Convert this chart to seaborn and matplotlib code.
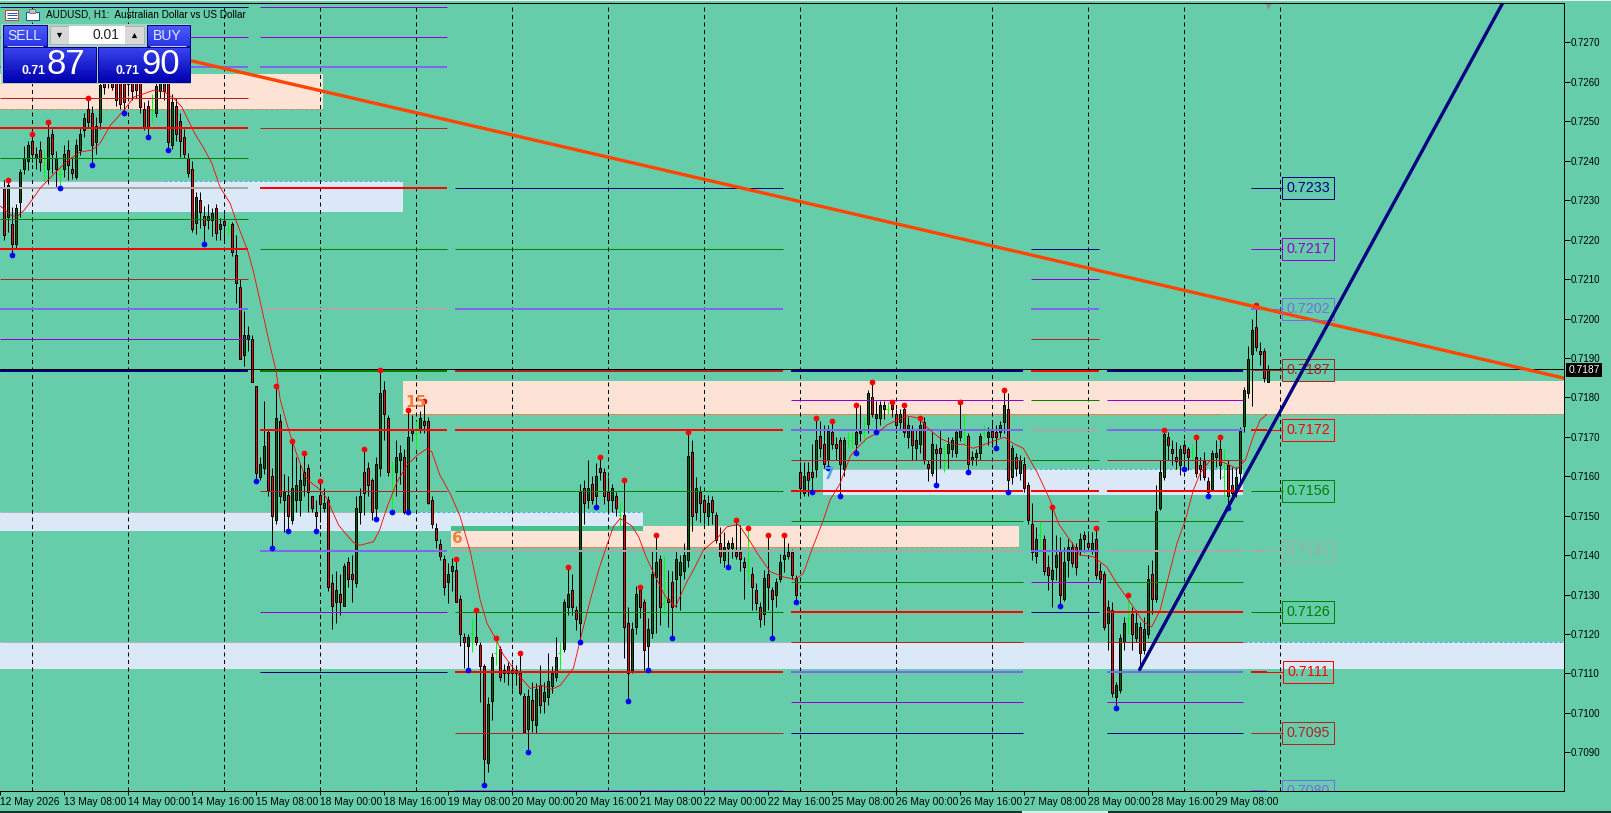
import numpy as np
import matplotlib
matplotlib.use('Agg')
import matplotlib.pyplot as plt
from matplotlib.colors import LinearSegmentedColormap
from matplotlib.patches import Rectangle
import seaborn as sns

# H1 bars, prices in 1e-4 units (7187.0 = 0.71870), ten bars per row
opens = [
    7232.9,7225.8,7223.9,7218.8,7229.5,7237.9,7240.0,7244.9,7240.8,7242.8,
    7238.9,7237.8,7246.9,7237.9,7236.7,7237.9,7242.8,7238.0,7235.9,7242.8,
    7247.9,7253.0,7252.0,7244.8,7249.9,7259.6,7259.6,7265.0,7263.0,7261.0,
    7260.0,7259.5,7262.0,7260.0,7261.0,7253.0,7254.0,7252.8,7252.0,7257.7,
    7261.0,7260.0,7243.9,7254.0,7250.0,7245.9,7240.8,7238.0,7224.1,7230.0,
    7225.9,7224.9,7224.9,7227.9,7222.7,7224.8,7222.8,7223.9,7216.1,7207.9,
    7190.8,7194.8,7194.9,7183.0,7159.8,7162.0,7171.1,7160.0,7148.9,7174.0,
    7154.0,7155.2,7148.9,7154.0,7154.0,7157.9,7162.0,7155.0,7151.0,7155.2,
    7152.0,7154.1,7133.0,7128.0,7130.2,7127.0,7138.3,7135.2,7133.0,7151.0,
    7161.0,7162.0,7159.0,7152.0,7162.0,7182.0,7174.9,7162.0,7161.0,7164.0,
    7165.0,7151.8,7171.0,7170.8,7171.8,7173.9,7173.9,7154.1,7147.0,7142.9,
    7138.9,7133.1,7136.0,7136.2,7129.0,7119.2,7117.0,7120.2,7119.2,7117.1,
    7112.0,7087.2,7103.1,7115.1,7116.1,7110.0,7112.0,7111.0,7111.0,7110.0,
    7104.3,7096.0,7103.3,7097.0,7107.0,7103.1,7104.1,7106.8,7109.0,7115.1,
    7116.1,7126.9,7131.1,7126.1,7122.9,7157.1,7154.0,7158.0,7155.1,7162.1,
    7161.0,7156.1,7154.0,7155.1,7150.2,7150.2,7122.9,7111.0,7121.8,7131.1,
    7128.0,7117.0,7120.2,7134.4,7138.9,7127.9,7129.0,7133.2,7134.0,7135.0,
    7136.0,7138.8,7166.1,7151.0,7156.0,7154.1,7149.9,7154.1,7150.2,7143.0,
    7138.8,7141.8,7141.8,7140.9,7140.9,7138.2,7136.2,7135.2,7131.1,7126.9,
    7125.0,7135.2,7131.1,7130.0,7134.0,7138.9,7140.9,7140.9,7134.1,7161.0,
    7155.8,7161.0,7161.0,7161.9,7170.2,7168.1,7164.1,7171.1,7168.1,7169.1,
    7161.9,7170.0,7169.2,7168.1,7171.0,7171.3,7173.2,7180.0,7174.8,7174.8,
    7177.0,7177.0,7178.0,7175.9,7173.8,7177.0,7170.0,7171.7,7167.1,7168.1,
    7173.8,7163.0,7160.9,7167.0,7167.1,7167.1,7166.0,7167.0,7166.0,7170.0,
    7171.3,7170.1,7164.0,7165.0,7166.0,7170.9,7170.0,7171.5,7171.1,7171.1,
    7173.8,7177.0,7159.9,7165.0,7160.9,7163.0,7157.9,7148.0,7139.8,7145.1,
    7144.1,7137.1,7134.0,7137.1,7141.0,7129.0,7138.7,7142.0,7142.0,7141.0,
    7145.1,7143.0,7141.0,7144.0,7136.1,7135.1,7122.9,7126.1,7104.1,7105.8,
    7118.1,7124.0,7125.0,7119.1,7121.9,7115.9,7120.1,7135.1,7128.9,7152.0,
    7159.8,7170.0,7167.0,7164.9,7162.9,7168.0,7166.9,7166.2,7164.9,7162.9,
    7163.9,7158.8,7156.8,7164.9,7167.0,7159.8,7162.9,7157.9,7155.9,7160.8,
    7172.8,7181.0,7190.9,7197.9,7191.8,7191.8,7183.9,
]
closes = [
    7221.1,7233.8,7218.8,7227.9,7237.1,7240.8,7243.9,7241.8,7241.8,7239.8,
    7238.9,7245.9,7241.8,7240.8,7236.7,7241.8,7238.9,7236.9,7243.9,7246.9,
    7250.9,7249.9,7243.9,7248.9,7259.1,7258.7,7264.0,7258.7,7255.5,7254.5,
    7254.9,7262.0,7257.7,7258.0,7253.7,7248.2,7248.2,7252.8,7258.9,7261.0,
    7257.7,7244.7,7255.0,7246.9,7244.9,7241.8,7236.9,7222.8,7230.8,7226.9,
    7223.7,7225.9,7226.8,7221.7,7223.9,7223.7,7222.8,7216.9,7208.9,7189.8,
    7195.9,7195.9,7183.9,7160.9,7163.0,7167.8,7156.6,7150.0,7174.9,7155.0,
    7156.0,7150.0,7156.9,7157.9,7159.0,7161.0,7155.9,7152.0,7150.0,7153.0,
    7153.1,7131.9,7127.0,7131.2,7128.0,7137.3,7134.0,7134.0,7152.0,7155.0,
    7155.8,7157.9,7151.0,7163.0,7181.0,7175.8,7161.0,7162.0,7165.0,7166.0,
    7151.0,7170.0,7171.8,7170.8,7174.9,7172.9,7153.1,7148.0,7143.9,7139.9,
    7131.9,7135.1,7137.2,7128.0,7120.0,7118.0,7119.2,7120.2,7118.0,7112.0,
    7088.2,7102.2,7114.1,7115.1,7109.0,7111.0,7110.0,7110.0,7110.0,7105.1,
    7095.1,7104.3,7098.1,7106.0,7102.0,7105.3,7108.0,7110.0,7114.1,7115.1,
    7128.0,7130.1,7126.9,7123.9,7156.1,7153.1,7157.1,7154.0,7160.0,7161.0,
    7155.1,7154.0,7157.1,7152.0,7150.2,7121.8,7110.0,7121.3,7130.1,7126.9,
    7115.9,7121.3,7135.2,7138.2,7126.9,7127.9,7128.0,7126.9,7138.9,7138.2,
    7140.0,7165.1,7149.9,7157.1,7153.1,7151.0,7153.1,7151.0,7143.8,7139.9,
    7142.0,7143.0,7143.0,7139.9,7138.9,7137.0,7136.2,7132.0,7127.9,7123.9,
    7134.1,7132.0,7129.0,7133.2,7138.2,7140.0,7139.9,7135.0,7129.9,7156.9,
    7160.0,7159.0,7159.9,7169.2,7167.1,7163.0,7171.5,7168.1,7167.1,7163.0,
    7169.1,7170.0,7169.2,7171.3,7171.4,7171.3,7181.0,7175.9,7175.9,7178.0,
    7178.0,7177.0,7177.0,7172.9,7175.9,7171.1,7172.9,7168.0,7169.2,7172.9,
    7164.1,7162.0,7168.1,7166.0,7166.0,7167.1,7168.1,7169.1,7171.1,7171.7,
    7171.3,7163.0,7165.0,7166.0,7170.1,7170.9,7171.1,7170.0,7170.0,7172.9,
    7178.0,7159.0,7167.1,7162.0,7164.0,7156.9,7148.9,7140.9,7144.1,7145.1,
    7136.0,7134.9,7136.2,7140.0,7129.9,7138.3,7142.0,7138.1,7137.1,7144.1,
    7144.1,7142.0,7143.0,7134.9,7134.0,7121.8,7126.9,7105.1,7107.0,7119.1,
    7122.9,7124.0,7120.1,7122.9,7115.1,7121.2,7134.0,7128.9,7151.1,7161.0,
    7170.7,7167.9,7165.9,7163.9,7167.0,7165.9,7164.9,7166.2,7160.8,7161.9,
    7159.8,7155.9,7166.0,7166.0,7162.9,7159.8,7154.9,7155.8,7159.8,7171.4,
    7182.0,7189.8,7197.0,7192.8,7190.9,7185.0,7186.9,
]
highs = [
    7235.0,7235.0,7228.3,7229.0,7238.0,7243.8,7245.0,7246.9,7243.5,7245.0,
    7242.8,7249.8,7248.0,7242.5,7238.9,7244.0,7245.2,7241.0,7245.5,7248.2,
    7252.0,7255.8,7254.0,7251.0,7261.0,7264.0,7266.0,7266.0,7265.0,7262.0,
    7262.0,7264.0,7264.0,7262.0,7263.0,7255.0,7255.5,7256.8,7260.5,7263.0,
    7264.0,7262.0,7257.0,7256.0,7252.0,7248.0,7242.0,7240.0,7232.0,7232.0,
    7228.5,7229.0,7227.9,7229.0,7225.5,7226.6,7224.8,7224.5,7221.1,7210.0,
    7201.9,7198.0,7195.9,7183.0,7165.0,7179.0,7172.0,7162.0,7183.0,7175.9,
    7160.7,7160.0,7169.0,7165.0,7163.0,7165.9,7163.0,7155.0,7153.9,7158.9,
    7156.9,7155.0,7135.2,7136.0,7135.2,7138.0,7139.5,7140.0,7155.0,7157.0,
    7167.0,7163.5,7159.5,7165.0,7187.0,7184.1,7175.5,7163.9,7169.1,7168.0,
    7167.0,7176.9,7175.5,7174.0,7176.5,7179.0,7175.0,7155.0,7148.2,7144.0,
    7140.0,7138.0,7139.2,7138.9,7130.0,7120.2,7120.0,7124.0,7126.0,7118.0,
    7112.5,7104.1,7115.1,7119.1,7117.0,7112.5,7113.0,7112.5,7112.1,7115.1,
    7105.0,7106.0,7107.9,7107.5,7112.1,7107.9,7115.1,7112.0,7119.3,7118.0,
    7129.0,7137.1,7135.2,7127.0,7158.0,7159.0,7164.1,7160.0,7163.3,7165.0,
    7162.0,7159.9,7158.0,7156.0,7153.1,7159.0,7126.9,7123.0,7132.1,7132.0,
    7129.0,7124.0,7141.3,7145.0,7140.0,7139.8,7136.2,7136.0,7141.0,7140.0,
    7143.0,7171.1,7169.2,7159.9,7157.5,7155.2,7155.2,7155.0,7151.0,7147.2,
    7145.9,7143.8,7144.7,7149.0,7147.6,7139.6,7147.0,7137.0,7133.0,7128.0,
    7136.2,7145.0,7132.0,7134.1,7140.4,7145.0,7143.0,7141.5,7135.0,7163.7,
    7163.7,7163.7,7168.1,7174.9,7174.0,7173.0,7173.0,7173.9,7170.0,7170.0,
    7170.0,7171.3,7171.3,7178.0,7178.0,7175.1,7182.0,7184.0,7179.0,7179.0,
    7179.0,7178.9,7178.9,7177.0,7177.0,7178.0,7175.0,7173.0,7172.0,7174.9,
    7175.0,7164.1,7171.3,7168.3,7172.0,7168.1,7170.0,7170.0,7172.0,7178.9,
    7175.9,7171.0,7166.5,7167.0,7171.0,7173.0,7172.6,7174.2,7173.0,7174.0,
    7182.0,7181.0,7168.0,7166.0,7165.5,7165.0,7158.5,7153.1,7147.2,7148.9,
    7145.0,7140.0,7152.1,7145.1,7144.7,7142.1,7144.2,7143.4,7143.0,7145.5,
    7146.0,7146.0,7145.9,7146.9,7137.9,7136.0,7128.6,7128.0,7107.9,7120.1,
    7124.4,7130.0,7126.9,7126.1,7123.0,7124.4,7137.4,7138.7,7157.9,7164.0,
    7171.7,7171.2,7169.1,7168.7,7167.9,7169.1,7167.4,7168.1,7170.0,7164.9,
    7166.2,7159.8,7166.6,7169.1,7170.0,7167.0,7164.0,7162.4,7162.4,7172.5,
    7182.7,7193.0,7200.0,7203.4,7194.1,7192.4,7188.1,
]
lows = [
    7219.8,7222.0,7216.0,7217.5,7225.8,7236.7,7237.6,7239.7,7238.0,7237.5,
    7234.9,7234.0,7237.0,7233.0,7233.0,7236.0,7235.0,7235.5,7235.5,7241.5,
    7246.0,7248.5,7238.8,7241.8,7248.0,7257.0,7258.5,7258.0,7254.0,7253.0,
    7252.0,7256.5,7255.5,7256.0,7252.0,7247.7,7245.9,7249.8,7251.0,7256.0,
    7255.5,7242.7,7243.0,7245.0,7241.0,7240.8,7236.0,7222.0,7221.5,7223.0,
    7219.0,7222.6,7220.9,7219.9,7219.9,7219.9,7220.9,7215.8,7204.0,7189.8,
    7187.9,7191.8,7183.9,7158.9,7159.0,7160.5,7155.0,7141.9,7148.0,7153.1,
    7145.9,7146.0,7148.0,7151.0,7150.0,7155.0,7151.0,7151.0,7146.0,7148.4,
    7151.0,7131.0,7121.2,7122.9,7124.9,7127.0,7132.0,7128.0,7132.0,7148.0,
    7150.1,7155.0,7148.9,7149.1,7160.0,7169.1,7160.0,7151.0,7155.0,7158.0,
    7150.5,7151.0,7169.0,7167.0,7171.0,7171.0,7153.0,7147.0,7141.7,7138.7,
    7129.9,7127.9,7131.0,7128.0,7117.0,7111.3,7111.0,7115.5,7117.2,7102.8,
    7081.7,7085.1,7098.2,7112.1,7108.0,7107.9,7107.0,7106.0,7107.0,7104.5,
    7095.0,7090.0,7095.2,7095.0,7100.0,7099.9,7102.0,7105.0,7108.0,7110.9,
    7115.5,7124.8,7124.8,7121.0,7118.1,7148.0,7152.0,7153.0,7152.1,7159.0,
    7153.0,7150.5,7151.0,7149.9,7147.2,7113.8,7103.1,7110.0,7120.0,7124.0,
    7111.0,7111.0,7119.0,7120.2,7122.3,7124.8,7121.8,7119.1,7126.9,7126.1,
    7134.0,7137.0,7146.0,7149.0,7148.5,7148.0,7147.7,7148.0,7143.0,7137.9,
    7137.0,7137.1,7139.2,7139.0,7136.0,7129.0,7133.3,7126.1,7126.1,7121.8,
    7122.3,7126.1,7119.1,7126.9,7133.3,7135.8,7139.0,7134.0,7128.0,7154.4,
    7155.0,7155.0,7155.9,7159.9,7165.0,7162.0,7162.0,7167.0,7164.0,7155.1,
    7160.0,7167.1,7167.1,7166.0,7169.0,7168.8,7171.0,7175.0,7171.1,7173.0,
    7174.5,7175.9,7175.0,7171.0,7172.0,7170.0,7167.1,7164.1,7164.1,7166.0,
    7163.0,7158.9,7160.0,7157.9,7162.0,7161.1,7162.0,7165.0,7165.0,7169.0,
    7168.3,7161.0,7162.8,7162.8,7164.0,7170.0,7168.0,7167.5,7167.1,7170.0,
    7171.0,7155.9,7158.0,7160.0,7159.0,7156.0,7147.9,7138.7,7137.9,7141.3,
    7134.9,7131.1,7126.9,7133.7,7127.0,7128.5,7134.5,7137.1,7134.9,7140.0,
    7140.9,7141.3,7140.4,7134.0,7133.0,7121.0,7116.0,7104.0,7101.2,7105.0,
    7115.9,7120.1,7115.9,7118.0,7110.9,7115.0,7119.0,7125.2,7128.0,7151.4,
    7159.0,7164.0,7162.8,7161.9,7160.3,7161.9,7161.5,7164.0,7159.8,7159.0,
    7159.0,7155.1,7156.4,7162.4,7159.4,7154.8,7152.0,7153.9,7154.8,7158.6,
    7171.2,7179.9,7177.8,7191.8,7188.1,7183.9,7183.9,
]

# fractal dots, as bar numbers
red_dots = [1,7,11,21,68,72,75,79,90,94,101,105,113,118,123,129,141,149,155,159,163,
            171,183,186,191,195,203,207,213,217,222,225,229,239,250,262,273,281,290,298,304,313]
blue_dots = [2,14,22,30,36,41,50,63,67,71,78,93,97,101,116,120,131,144,148,156,161,167,181,192,
             198,202,206,209,213,218,233,241,248,251,264,278,295,301,306]

ma_bars = [-0.9,2,3.3,5,7.5,9,13,16,19,22,24,26.6,30,32.5,35,37.5,40,42.5,44.5,47.5,50,52,54,56.6,58,61,
           62.4,64,66.2,68,69.1,71.2,73.3,75.4,77,78.7,80.8,82,83.7,85.4,87.4,89,92.4,93.9,95.8,98.3,100.8,
           103.3,105.8,107,109,111.6,114.1,116.6,119.1,120.8,122.9,124.9,127.4,129.5,131.6,134.5,137,139.1,
           142.4,144.1,146.6,148.7,150.8,152.4,154.1,157,158.7,160.4,162.9,165.4,167.9,170.8,172.4,174.9,
           178.3,180.8,183.7,185.8,188.7,191.6,194.9,197.9,199.9,202,204.9,206.6,209.1,211.6,213.3,215.8,
           218.3,220.8,223.3,225.8,228.9,230.8,234.1,237.4,239.9,242.4,245.8,250.2,252.4,254.9,258.3,261.6,
           263.7,266.6,269.1,272.4,275.8,278.3,282.4,284.9,287,289.1,291.2,293.3,295.4,297.4,299.1,301.6,
           303.7,306.6,308.3,310.4,312.4,314.1,315.8]
ma_values = [7228.5,7226,7225.9,7227.4,7230.8,7233,7237.2,7240.1,7242.2,7242.7,7244.4,7249,7252.8,7256.2,7257,
             7257.9,7257.5,7255.8,7253.6,7247.3,7243.1,7239.3,7233.4,7229.1,7224.9,7217,
             7211.8,7204.6,7194.5,7186.9,7179.3,7171.7,7165.3,7159.8,7158.2,7156.9,7154.3,7151.4,7147.6,7145.5,
             7143.2,7142.5,7143.4,7146.3,7152.2,7158.6,7162.8,7165.3,7167,7166.2,7160.3,7155.6,7149.7,7140.9,
             7128.6,7122.7,7118.9,7114.7,7111.3,7108.7,7106.2,7107,7106,7107,7111.3,7118.5,7128.6,7136.2,7142.6,
             7147.2,7149.3,7147.4,7144.7,7140,7134.5,7129.5,7126.9,7133.3,7136.2,7141.3,7144.2,7147.2,7147.8,
             7144.7,7140,7135.8,7134.5,7133.8,7135.4,7141.3,7148.9,7154,7158.2,7165,7167.1,7169.6,7170.9,7173,
             7174.2,7175.3,7174.7,7172.4,7169.6,7168.1,7168.1,7167.1,7168.3,7169.9,7168.3,7167.1,7161.1,7154,
             7148,7143.8,7140,7139.6,7137,7132.8,7126.9,7123.1,7121.8,7126,7134.5,7142.9,7148.8,7156.4,7160.7,
             7164,7164,7162.8,7161.9,7164,7170,7174.2,7175.7]

# pivot levels per block: n navy, p purple, s slate, f firebrick, r red, g green, a gray
block_starts = [-1, 63.9, 112.9, 196.9, 256.9, 275.9]
block_ends = [61.1, 110.9, 194.9, 254.9, 273.9, 309.9]
block1_levels = [7279,7271.3,7263.7,7256,7248.3,7240.7,7233,7225.3,7217.7,7210,7202.3,7194.7,7186.7]
block1_kinds = 'npsfrgagrfspn'
block2_levels = [7279,7271.3,7263.7,7248.3,7233,7217.7,7202.3,7186.7,7171.7,7156.3,7141,7125.7,7110.3]
block2_kinds = 'ppsfrgagrfspn'
block3_levels = [7233,7217.7,7202.3,7186.7,7171.7,7156.3,7141,7125.7,7110.3,7095,7080.2]
block3_kinds = 'ngsfrgagrfs'
block4_levels = [7186.7,7179.3,7171.7,7164,7156.3,7148.7,7141,7133.3,7125.7,7118,7110.3,7102.7,7095]
block4_kinds = 'npsfrgagrfspn'
block5_levels = [7217.7,7210,7202.3,7194.7,7186.7,7179.3,7171.7,7164,7156.3,7148.7,7141,7133.3,7125.7]
block5_kinds = 'npsfrgagrfspn'
block6_levels = block4_levels
block6_kinds = block4_kinds
current_level = 7186.7

# labelled levels at the right
label_levels = [7233,7217.7,7202.3,7187,7171.7,7156.3,7141,7125.7,7110.3,7095,7080.2]
label_texts = ['0.7233','0.7217','0.7202','0.7187','0.7172','0.7156','0.7141','0.7126','0.7111','0.7095','0.7080']
label_kinds = 'npsfrgagrfs'

# supply and demand zones
peach_starts = [-1, 99.9, 111.9]
peach_ends = [79.9, 390.2, 253.9]
peach_tops = [7262.0, 7184.1, 7147.4]
peach_bottoms = [7253.1, 7175.9, 7142.1]
peach_dash_from = [-1, 303.6, 199]
blue_starts = [-1, -1, 204.9, -1]
blue_ends = [99.9, 159.9, 309.9, 390.2]
blue_tops = [7234.8, 7151.0, 7161.9, 7118.1]
blue_bottoms = [7227.0, 7146.2, 7155.3, 7111.1]
blue_dash_from = [40, 102, 250, 310]
zone_counts = ['15', '6', '7']
zone_count_bars = [100.4, 112.0, 205.0]
zone_count_prices = [7178.6, 7144.3, 7160.4]

# trend lines
resist_bars = [47, 390.1]
resist_prices = [7265.3, 7184.9]
support_bars = [284, 374.8]
support_prices = [7111.0, 7280.0]

last_price = 7187.0

day_lines = list(range(7, 320, 24))
time_ticks = list(range(-1, 304, 16))
time_labels = ['12 May 2026','13 May 08:00','14 May 00:00','14 May 16:00','15 May 08:00','18 May 00:00',
               '18 May 16:00','19 May 08:00','20 May 00:00','20 May 16:00','21 May 08:00','22 May 00:00',
               '22 May 16:00','25 May 08:00','26 May 00:00','26 May 16:00','27 May 08:00','28 May 00:00',
               '28 May 16:00','29 May 08:00']
price_ticks = [7090 + 10 * k for k in range(19)]

BG = '#66CDAA'
KIND_COLOR = {'n': '#000080', 'p': '#9400D3', 's': '#7B68EE', 'f': '#B22222',
              'r': '#FF0000', 'g': '#008000', 'a': '#A9A9A9'}
KIND_WIDTH = {'n': 1.0, 'p': 1.0, 's': 2.0, 'f': 1.0, 'r': 2.0, 'g': 1.0, 'a': 2.0}
PX = 0.72  # one pixel in points at dpi 100


def p(values):
    return np.asarray(values, dtype=float) / 1e4


def draw_levels(ax, start, end, levels, kinds):
    for lev, k in zip(levels, kinds):
        w = 2.0 if lev == current_level else KIND_WIDTH[k]
        ax.hlines(p(lev), start, end, color=KIND_COLOR[k], lw=w * PX, zorder=5, snap=True)


def grad_rect(ov, x0, y0, x1, y1, top, bottom, z=3):
    cmap = LinearSegmentedColormap.from_list('g', [top, bottom])
    ov.imshow(np.linspace(0, 1, 32)[:, None], extent=(x0, x1, y1, y0), cmap=cmap, aspect='auto', zorder=z)
    ov.add_patch(Rectangle((x0, y0), x1 - x0, y1 - y0, fill=False, ec='#00008B', lw=PX, zorder=z + 1))


sns.set_theme(style='white')
plt.rcParams['font.family'] = ['Liberation Sans', 'DejaVu Sans']

fig = plt.figure(figsize=(16.11, 8.13), dpi=100, facecolor=BG)
ax = fig.add_axes([0, 1 - 791 / 813, 1564 / 1611, 788 / 813], facecolor=BG)
bars = np.arange(len(opens))
ax.set_xlim(-0.875, 390.125)
ax.set_ylim(0.70802, 0.72800)

# zones
for s, e, t, b, d in zip(peach_starts, peach_ends, peach_tops, peach_bottoms, peach_dash_from):
    ax.fill_between([s, e], p(b), p(t), color='#FCE3D6', lw=0, zorder=1)
    ax.hlines(p(b), s, d, color='#F0804A', lw=PX, zorder=1.5, snap=True)
    ax.hlines(p(b), d, e, color='#F0804A', lw=PX, ls=(0, (3, 2)), zorder=1.5, snap=True)
for s, e, t, b, d in zip(blue_starts, blue_ends, blue_tops, blue_bottoms, blue_dash_from):
    ax.fill_between([s, e], p(b), p(t), color='#DAE8F8', lw=0, zorder=1.2)
    ax.hlines(p(t), s, d, color='#A9B8B8', lw=PX, zorder=1.5, snap=True)
    ax.hlines(p(t), d, e, color='#4CA6E0', lw=PX, ls=(0, (3, 2)), zorder=1.5, snap=True)
ax.fill_between([111.9, 159.9], p(7146.2), p(7147.4), color='#44C28E', lw=0, zorder=1.6)
ax.fill_between([111.9, 159.9], p(7142.1), p(7146.2), color='#FCE3D6', lw=0, zorder=1.4)
for txt, bar, lev, col in zip(zone_counts, zone_count_bars, zone_count_prices, ['#F08040', '#F08040', '#4CA6E0']):
    ax.text(bar, p(lev), txt, color=col, fontsize=11, fontweight='bold', family='DejaVu Sans',
            va='center', ha='left', zorder=8)

ax.vlines(day_lines, 0.70802, 0.72800, color='black', lw=PX, ls=(0, (4, 3.5)), zorder=2, snap=True)

# candles, open equal to close is a lime doji
o, h, l, c = p(opens), p(highs), p(lows), p(closes)
doji = o == c
ax.vlines(bars[~doji], l[~doji], h[~doji], color='black', lw=PX, zorder=3, snap=True)
ax.vlines(bars[doji], l[doji], h[doji], color='#00FF00', lw=PX, zorder=3, snap=True)
ax.hlines(o[doji], bars[doji] - 0.4, bars[doji] + 0.4, color='#00FF00', lw=PX, zorder=3, snap=True)
up = c > o
down = c < o
ax.bar(bars[up], (c - o)[up], bottom=o[up], width=0.5, color='#006400', edgecolor='black', lw=PX, zorder=4)
ax.bar(bars[down], (o - c)[down], bottom=c[down], width=0.5, color='#FF0000', edgecolor='black', lw=PX, zorder=4)

# pivot levels
draw_levels(ax, block_starts[0], block_ends[0], block1_levels, block1_kinds)
draw_levels(ax, block_starts[1], block_ends[1], block2_levels, block2_kinds)
draw_levels(ax, block_starts[2], block_ends[2], block3_levels, block3_kinds)
draw_levels(ax, block_starts[3], block_ends[3], block4_levels, block4_kinds)
draw_levels(ax, block_starts[4], block_ends[4], block5_levels, block5_kinds)
draw_levels(ax, block_starts[5], block_ends[5], block6_levels, block6_kinds)

ax.axhline(p(last_price + 0.25), color='black', lw=PX, zorder=5.5, snap=True)

sns.lineplot(x=ma_bars, y=p(ma_values), color='#FF0000', lw=0.6, errorbar=None, sort=False, ax=ax, zorder=6)
sns.scatterplot(x=red_dots, y=h[red_dots], color='#FF0000', s=17, linewidth=0, ax=ax, zorder=6.5)
sns.scatterplot(x=blue_dots, y=l[blue_dots], color='#0000FF', s=17, linewidth=0, ax=ax, zorder=6.5)

sns.lineplot(x=resist_bars, y=p(resist_prices), color='#FF4500', lw=2.4, errorbar=None, ax=ax, zorder=7)
sns.lineplot(x=support_bars, y=p(support_prices), color='#000080', lw=2.4, errorbar=None, ax=ax, zorder=7.5)

# right hand level labels
for lev, txt, k in zip(label_levels, label_texts, label_kinds):
    col = KIND_COLOR[k]
    ax.hlines(p(lev), 311.9, 319.9, color=col, lw=PX, zorder=5, snap=True)
    if KIND_WIDTH[k] > 1:
        ax.hlines(p(lev), 311.9, 315.9, color=col, lw=2 * PX, zorder=5, snap=True)
    ax.text(326.1, p(lev), txt, color=col, fontsize=10.3, ha='center', va='center', zorder=7, clip_on=True,
            bbox=dict(boxstyle='square,pad=0.28', fc='none', ec=col, lw=PX))

ax.scatter([316], [0.72795], marker='v', s=40, color='#8C8C8C', lw=0, zorder=8)

# axes dressing
ax.set_xticks(time_ticks, time_labels, ha='left', fontsize=7.4)
ax.set_yticks(p(price_ticks), [f'{v / 1e4:.4f}' for v in price_ticks], fontsize=6.9)
ax.tick_params(axis='x', bottom=True, length=3, width=PX, pad=1, color='black', labelcolor='black')
ax.tick_params(axis='y', left=False, right=True, labelleft=False, labelright=True, length=4, width=PX,
               pad=1, color='black', labelcolor='black')
for side in ['top', 'right', 'bottom']:
    ax.spines[side].set_color('black')
    ax.spines[side].set_linewidth(PX)
    ax.spines[side].set_zorder(9)
ax.spines['left'].set_visible(False)
ax.set_xlabel('')
ax.set_ylabel('')
ax.annotate(f'{last_price / 1e4:.4f}', xy=(1, p(last_price)), xycoords=ax.get_yaxis_transform(),
            xytext=(20, 0), textcoords='offset pixels', ha='center', va='center', color='white', fontsize=7.4,
            annotation_clip=False, bbox=dict(boxstyle='square,pad=0.2', fc='black', ec='black', lw=0))

# top left panel and frame, in figure pixels
ov = fig.add_axes([0, 0, 1, 1], facecolor='none', zorder=10)
ov.set_autoscale_on(False)
ov.set_xlim(0, 1611)
ov.set_ylim(813, 0)
ov.axis('off')
ov.add_patch(Rectangle((0, 0), 1611, 1.2, fc='#E8F4EE', lw=0))
ov.hlines(812, 0, 1022, color='black', lw=1.5 * PX)
ov.hlines(812, 1108, 1611, color='black', lw=1.5 * PX)
ov.hlines(812, 1022, 1108, color='white', lw=1.5 * PX)

ov.text(46, 14.5, 'AUDUSD, H1:  Australian Dollar vs US Dollar', fontsize=7.2, color='black', va='center', ha='left')
ov.add_patch(Rectangle((5, 10), 13, 10, fc='white', ec='#D04030', lw=PX))
for y in (13, 15.5, 18):
    ov.hlines(y, 6.5, 16.5, color='#3050C0', lw=PX)
ov.add_patch(Rectangle((26, 12), 13, 8, fc='white', ec='#2050A0', lw=PX))
ov.add_patch(Rectangle((29, 9), 6, 4, fc='#C0C0C0', ec='#808080', lw=PX))

ov.add_patch(Rectangle((1, 24), 190, 60, fc='#A8D4C4', lw=0, zorder=2))
grad_rect(ov, 3, 25.5, 47, 46.5, '#4C5CFA', '#2A36E6')
grad_rect(ov, 146.5, 25.5, 190, 46.5, '#4C5CFA', '#2A36E6')
grad_rect(ov, 3, 47, 96, 82, '#3A44EE', '#0000B0')
grad_rect(ov, 98, 47, 190, 82, '#3A44EE', '#0000B0')
ov.hlines(46, 7, 43, color='#C8D0FF', lw=PX, zorder=6)
ov.hlines(46, 150, 186, color='#C8D0FF', lw=PX, zorder=6)
ov.add_patch(Rectangle((49.5, 26), 94.5, 18.5, fc='#D8D8D8', ec='#B0B0B0', lw=PX, zorder=3))
ov.add_patch(Rectangle((69, 26.5), 55.5, 17.5, fc='white', lw=0, zorder=4))
ov.scatter([58.5], [35], marker='v', s=14, color='black', lw=0, zorder=5)
ov.scatter([133.5], [35], marker='^', s=14, color='black', lw=0, zorder=5)
ov.text(119, 35, '0.01', fontsize=10, color='#202020', ha='right', va='center', zorder=6)
ov.text(24, 36, 'SELL', fontsize=10, color='#E4E8FF', ha='center', va='center', zorder=6)
ov.text(167, 36, 'BUY', fontsize=10, color='#E4E8FF', ha='center', va='center', zorder=6)
ov.text(33.5, 71.5, '0.71', fontsize=8.8, color='white', fontweight='bold', ha='center', va='center', zorder=6)
ov.text(127.5, 71.5, '0.71', fontsize=8.8, color='white', fontweight='bold', ha='center', va='center', zorder=6)
ov.text(66, 64.5, '87', fontsize=25, color='white', ha='center', va='center', zorder=6)
ov.text(161, 64.5, '90', fontsize=25, color='white', ha='center', va='center', zorder=6)

fig.savefig('out.png', dpi=100, facecolor=BG)
